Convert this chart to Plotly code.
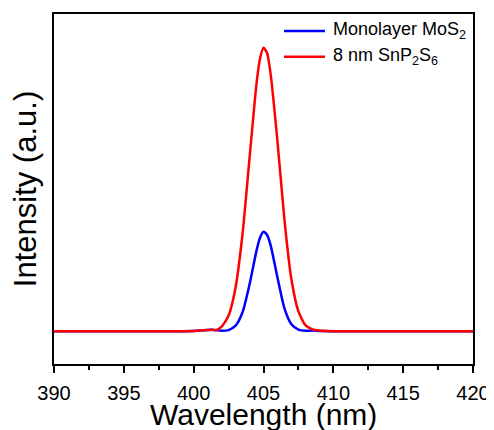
import plotly.graph_objects as go

# Wavelength (nm)
wavelength = [390, 395, 399, 400, 400.5, 401, 401.3, 401.6, 402, 402.5, 403, 403.5, 404, 404.5, 404.75,
              405, 405.25, 405.5, 406, 406.5, 407, 407.5, 408, 408.5, 409, 410, 415, 420]
# Monolayer MoS2 (arb. units)
mos2 = [0, 0, 0, 0.2, 0.6, 1.2, 1.4, 1.0, 0.5, 1.1, 5.5, 19, 47, 81, 94,
        100, 97, 87, 54, 23, 7, 1.6, 0.4, 0.6, 0.2, 0, 0, 0]
# 8 nm SnP2S6 (arb. units)
snp2s6 = [0, 0, 0, 0.2, 0.6, 1.2, 1.4, 1.0, 4.5, 15.8, 44, 98, 174, 249, 274,
          285, 280, 260, 191, 112, 52, 20, 6, 1.8, 0.6, 0, 0, 0]

x_ticks = [390, 395, 400, 405, 410, 415, 420]
series_names = ["Monolayer MoS<sub>2</sub>", "8 nm SnP<sub>2</sub>S<sub>6</sub>"]
series_colors = ["#0000ff", "#ff0000"]

fig = go.Figure()
for yvals, name, color in zip([mos2, snp2s6], series_names, series_colors):
    fig.add_trace(go.Scatter(x=wavelength, y=yvals, mode="lines", name=name, showlegend=False,
                             line=dict(color=color, width=2.5, shape="spline", smoothing=0.6)))

# manual legend (paper coordinates)
legend_y = [0.9517, 0.8778]
for name, color, ly in zip(series_names, series_colors, legend_y):
    fig.add_shape(type="line", xref="paper", yref="paper", x0=0.549, x1=0.6468, y0=ly, y1=ly,
                  line=dict(color=color, width=2.5))
    fig.add_annotation(xref="paper", yref="paper", x=0.661, y=ly, text=name, showarrow=False,
                       xanchor="left", yanchor="middle", font=dict(size=18, color="black"))

# x-axis title as annotation so it can sit at the very bottom like the reference
fig.add_annotation(xref="paper", yref="paper", x=0.5, y=-0.145, text="Wavelength (nm)",
                   showarrow=False, xanchor="center", yanchor="middle",
                   font=dict(size=30, color="black"))

fig.update_layout(
    width=486, height=422,
    margin=dict(l=46, r=21, t=4, b=66),
    paper_bgcolor="white", plot_bgcolor="white",
    font=dict(family="Liberation Sans, Arial, sans-serif", color="black"),
    showlegend=False,
    xaxis=dict(range=[390, 420], tickvals=x_ticks, ticks="outside", ticklen=7, tickwidth=1.5,
               tickcolor="black", showline=True, linecolor="black", linewidth=2, mirror=True,
               showgrid=False, zeroline=False, tickfont=dict(size=20), ticklabelstandoff=3,
               minor=dict(dtick=2.5, tick0=390, ticks="outside", ticklen=4, tickwidth=1.5,
                          tickcolor="black", showgrid=False)),
    yaxis=dict(range=[-33, 319], showticklabels=False, ticks="", showline=True, linecolor="black",
               linewidth=2, mirror=True, showgrid=False, zeroline=False,
               title=dict(text="Intensity (a.u.)", font=dict(size=31), standoff=8)),
)

fig.write_html("out.html")
